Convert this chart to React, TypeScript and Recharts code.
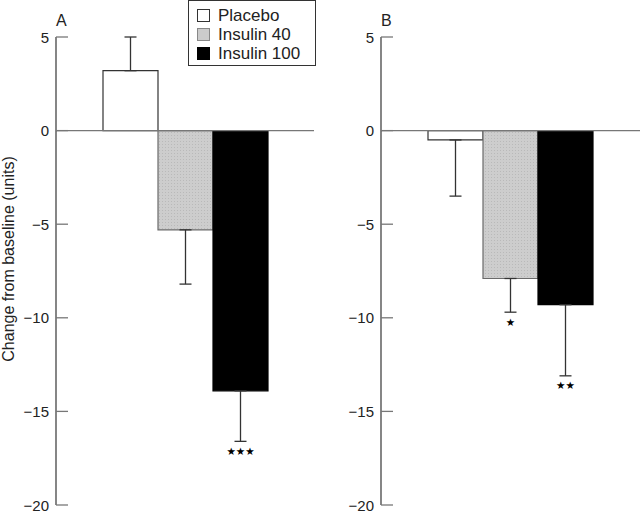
import { BarChart, Bar, XAxis, YAxis, ErrorBar, ReferenceLine, LabelList } from "recharts";

const GROUPS = ["Placebo", "Insulin 40", "Insulin 100"];
const KEYS = ["placebo", "ins40", "ins100"];
const A_MEANS = [3.2, -5.3, -13.9];
const A_ERRS = [1.8, 2.9, 2.7];
const A_STARS = ["", "", "★★★"];
const B_MEANS = [-0.5, -7.9, -9.3];
const B_ERRS = [3.0, 1.8, 3.8];
const B_STARS = ["", "★", "★★"];
const Y_TICKS = [5, 0, -5, -10, -15, -20];

const FONT = '"Liberation Sans", Arial, Helvetica, sans-serif';
const INK = "#222";
const STROKES = ["#333", "#6a6a6a", "#000"];

function makeRow(name: string, means: number[], errs: number[]) {
  const row: any = { name };
  KEYS.forEach((k, i) => {
    row[k] = means[i];
    // one-sided error, pointing away from zero
    row[k + "Err"] = means[i] >= 0 ? [0, errs[i]] : [errs[i], 0];
  });
  return [row];
}

function Tick(props: any) {
  const { x, y, payload } = props;
  const v = payload.value;
  const label = v < 0 ? "\u2212" + Math.abs(v) : String(v);
  return (
    <g>
      <line x1={x} x2={x + 12} y1={y} y2={y} stroke="#777" strokeWidth={1.3} />
      <text x={x - 7} y={y} textAnchor="end" dominantBaseline="central" fontSize={15} fill={INK} fontFamily={FONT}>
        {label}
      </text>
    </g>
  );
}

// stars sit just under the end of the error bar, scaled from the bar's own geometry
const starContent = (mean: number, err: number, text: string) => (props: any) => {
  const vb = props.viewBox || props;
  const y0 = Number(vb.y), h = Number(vb.height), x = Number(vb.x), w = Number(vb.width);
  const top = Math.min(y0, y0 + h);
  const hh = Math.abs(h);
  const k = hh / Math.abs(mean);
  const endY = top + hh + err * k;
  return (
    <text x={x + w / 2} y={endY + 9.5} textAnchor="middle" dominantBaseline="central" fontSize={10.5} fill="#000" fontFamily='"DejaVu Sans", sans-serif'>
      {text}
    </text>
  );
};

function Panel({ name, means, errs, stars, axisWidth, right }: any) {
  const data = makeRow(name, means, errs);
  const pid = "dots" + name;
  const fills = ["#ffffff", `url(#${pid})`, "#000000"];
  return (
    <BarChart width={320} height={511} data={data} margin={{ top: 37, right, bottom: 6, left: 0 }} barGap={0} barCategoryGap={0}>
      <defs>
        <pattern id={pid} width="3" height="3" patternUnits="userSpaceOnUse">
          <rect width="3" height="3" fill="#cdcdcd" />
          <rect width="1" height="1" fill="#b9b9b9" />
        </pattern>
      </defs>
      <XAxis dataKey="name" hide />
      <YAxis type="number" domain={[-20, 5]} ticks={Y_TICKS} interval={0} width={axisWidth}
        tickSize={0} tickMargin={0} tickLine={false} tick={<Tick />}
        axisLine={{ stroke: "#444", strokeWidth: 1.3 }} allowDataOverflow />
      {KEYS.map((k, i) => (
        <Bar key={k} dataKey={k} name={GROUPS[i]} barSize={55} fill={fills[i]} stroke={STROKES[i]} strokeWidth={1.2} isAnimationActive={false}>
          <ErrorBar dataKey={k + "Err"} width={6} stroke="#333" strokeWidth={1.3} direction="y" isAnimationActive={false} />
          {stars[i] ? <LabelList dataKey={k} content={starContent(means[i], errs[i], stars[i])} /> : null}
        </Bar>
      ))}
      <ReferenceLine y={0} stroke="#777" strokeWidth={1.4} />
    </BarChart>
  );
}

function LegendBox() {
  const swatches = [
    { fill: "#fff", border: "#333" },
    { fill: "#cbcbcb", border: "#888" },
    { fill: "#000", border: "#000" },
  ];
  return (
    <div style={{ position: "absolute", left: 188, top: 0, width: 128, height: 66, boxSizing: "border-box", border: "1.3px solid #333", background: "#fff", fontFamily: FONT, fontSize: 17, color: INK }}>
      {GROUPS.map((g, i) => (
        <div key={g} style={{ position: "absolute", left: 8, top: 5 + i * 19, height: 19, display: "flex", alignItems: "center", whiteSpace: "nowrap" }}>
          <span style={{ width: 13, height: 13, boxSizing: "border-box", background: swatches[i].fill, border: `1px solid ${swatches[i].border}`, marginRight: 8 }} />
          {g}
        </div>
      ))}
    </div>
  );
}

export default function App() {
  return (
    <div style={{ position: "absolute", left: 0, top: 0, width: 640, height: 511, background: "#fff", overflow: "hidden" }}>
      <div style={{ position: "absolute", left: 0, top: 0 }}>
        <Panel name="A" means={A_MEANS} errs={A_ERRS} stars={A_STARS} axisWidth={56} right={6} />
      </div>
      <div style={{ position: "absolute", left: 320, top: 0 }}>
        <Panel name="B" means={B_MEANS} errs={B_ERRS} stars={B_STARS} axisWidth={61} right={0} />
      </div>
      <svg width={640} height={511} style={{ position: "absolute", left: 0, top: 0, pointerEvents: "none" }}>
        <text x={56} y={26} fontSize={16} fill={INK} fontFamily={FONT}>A</text>
        <text x={381} y={26} fontSize={16} fill={INK} fontFamily={FONT}>B</text>
        <text x={14} y={259} transform="rotate(-90 14 259)" textAnchor="middle" fontSize={16} fill={INK} fontFamily={FONT}>
          Change from baseline (units)
        </text>
      </svg>
      <LegendBox />
    </div>
  );
}
